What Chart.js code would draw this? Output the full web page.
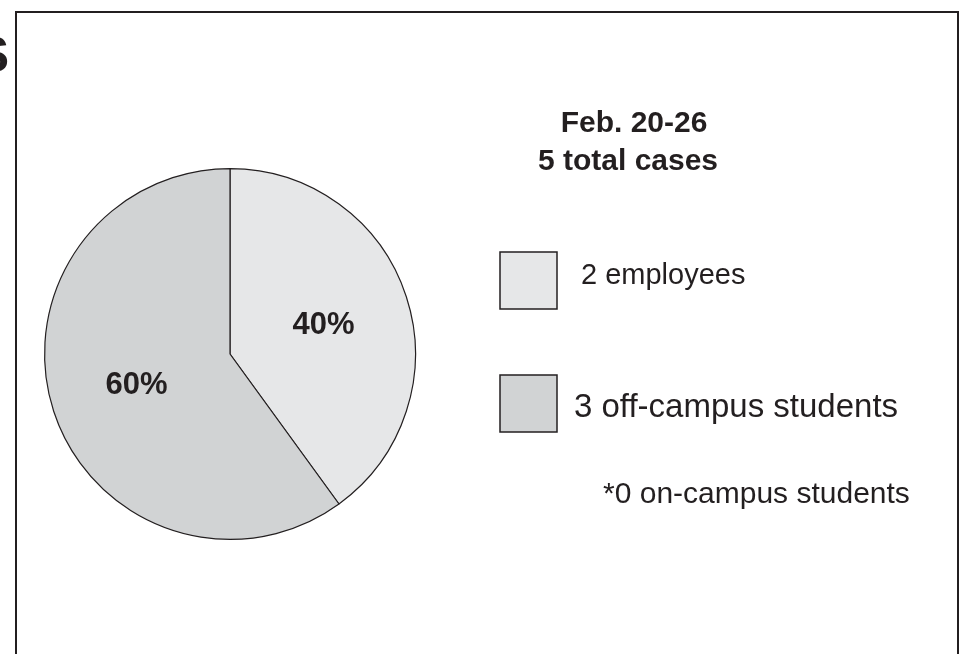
<!DOCTYPE html>
<html>
<head>
<meta charset="utf-8">
<script src="https://cdn.jsdelivr.net/npm/chart.js@4.4.1/dist/chart.umd.min.js"></script>
<style>
  html, body { margin: 0; padding: 0; background: #fff; }
  #wrap { position: relative; width: 961px; height: 654px; }
</style>
</head>
<body>
<div id="wrap"><canvas id="chart" width="961" height="654"></canvas></div>
<script>
const categories = ['employees', 'off-campus students'];
const caseCounts = [2, 3];
const sliceColors = ['#e6e7e8', '#d1d3d4'];
const titleLines = ['Feb. 20-26', '5 total cases'];
const footnote = '*0 on-campus students';

const ink = '#231f20';
const fontFamily = '"Liberation Sans", Arial, Helvetica, sans-serif';

// draws the frame, title, legend boxes and percentage labels
const decorPlugin = {
    id: 'decor',
    afterDatasetsDraw(chart) {
        const ctx = chart.ctx;
        ctx.save();

        // frame (runs off the bottom edge)
        ctx.strokeStyle = ink;
        ctx.lineWidth = 2;
        ctx.strokeRect(16, 12, 942, 700);

        // clipped heading letter at left edge
        ctx.fillStyle = ink;
        ctx.font = 'bold 50px ' + fontFamily;
        ctx.textAlign = 'right';
        ctx.textBaseline = 'alphabetic';
        ctx.fillText('S', 9, 72);

        // percentages inside slices
        const total = caseCounts.reduce((a, b) => a + b, 0);
        const meta = chart.getDatasetMeta(0);
        ctx.font = 'bold 31px ' + fontFamily;
        ctx.textAlign = 'center';
        meta.data.forEach((arc, i) => {
            const p = arc.getProps(['x', 'y', 'startAngle', 'endAngle', 'outerRadius'], true);
            const mid = (p.startAngle + p.endAngle) / 2;
            const r = p.outerRadius * 0.53;
            const x = p.x + Math.cos(mid) * r;
            const y = p.y + Math.sin(mid) * r;
            ctx.fillText(Math.round(caseCounts[i] / total * 100) + '%', x, y + 10);
        });

        // title
        ctx.font = 'bold 30px ' + fontFamily;
        ctx.fillText(titleLines[0], 634, 132);
        ctx.fillText(titleLines[1], 628, 170);

        // legend
        ctx.textAlign = 'left';
        const boxTops = [252, 375];
        const textX = [581, 574];
        const baselines = [284, 417];
        const sizes = [29, 33];
        categories.forEach((c, i) => {
            ctx.fillStyle = sliceColors[i];
            ctx.fillRect(500, boxTops[i], 57, 57);
            ctx.strokeStyle = ink;
            ctx.lineWidth = 1.5;
            ctx.strokeRect(500, boxTops[i], 57, 57);
            ctx.fillStyle = ink;
            ctx.font = sizes[i] + 'px ' + fontFamily;
            ctx.fillText(caseCounts[i] + ' ' + c, textX[i], baselines[i]);
        });

        ctx.font = '30px ' + fontFamily;
        ctx.fillText(footnote, 603, 503);
        ctx.restore();
    }
};

new Chart(document.getElementById('chart'), {
    type: 'pie',
    data: {
        labels: categories,
        datasets: [{
            data: caseCounts,
            backgroundColor: sliceColors,
            borderColor: ink,
            borderWidth: 1.2
        }]
    },
    options: {
        responsive: false,
        animation: false,
        layout: { padding: { left: 44, top: 168, right: 545, bottom: 114 } },
        plugins: {
            legend: { display: false },
            tooltip: { enabled: false }
        }
    },
    plugins: [decorPlugin]
});
</script>
</body>
</html>
